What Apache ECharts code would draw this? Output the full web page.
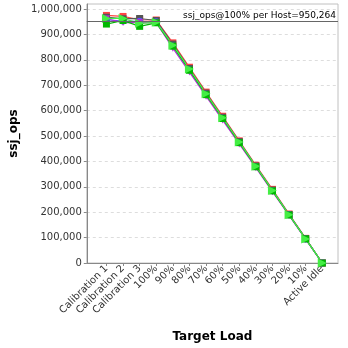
<!DOCTYPE html>
<html>
<head>
<meta charset="utf-8">
<script src="https://cdn.jsdelivr.net/npm/echarts@6/dist/echarts.min.js"></script>
<style>
  html, body { margin: 0; padding: 0; background: #fff; }
  #chart { width: 348px; height: 348px; }
</style>
</head>
<body>
<div id="chart"></div>
<script>
// Target load levels along the x axis
const categories = ['Calibration 1', 'Calibration 2', 'Calibration 3', '100%', '90%', '80%', '70%',
  '60%', '50%', '40%', '30%', '20%', '10%', 'Active Idle'];

// ssj_ops per host at each load level
const hostRed     = [975000, 971000, 958000, 957000, 867000, 771000, 673000, 578000, 481000, 385000, 290000, 193000, 97000, 0];
const hostGray    = [968000, 962000, 963000, 955000, 862000, 766000, 669000, 574000, 478000, 382000, 287000, 191000, 96000, 0];
const hostBlue    = [958000, 953000, 952000, 950000, 855000, 760000, 665000, 570000, 475000, 380000, 285000, 190000, 95000, 0];
const hostMagenta = [962000, 947000, 947000, 946000, 846000, 752000, 657000, 563000, 469000, 375000, 281000, 187000, 93000, 0];
const hostGreen   = [941000, 955000, 932000, 946000, 854000, 759000, 663000, 569000, 474000, 379000, 284000, 189000, 95000, 0];
const hostLime    = [963000, 963000, 944000, 948000, 858000, 764000, 667000, 572000, 477000, 381000, 286000, 190000, 95000, 0];

// y axis tick values
const yTicks = [0, 100000, 200000, 300000, 400000, 500000, 600000, 700000, 800000, 900000, 1000000];
const perHostAt100 = 950264;

const xIndex = categories.map((_, i) => i);
const pairs = vals => vals.map((v, i) => [i, v]);

const hosts = [
  { name: 'host 1', data: hostRed,     color: '#ff4444', symbol: 'rect',     rot: 0,   size: 7 },
  { name: 'host 2', data: hostGray,    color: '#555555', symbol: 'rect',     rot: 0,   size: 7 },
  { name: 'host 3', data: hostBlue,    color: '#5555ff', symbol: 'circle',   rot: 0,   size: 7 },
  { name: 'host 4', data: hostMagenta, color: '#b030d0', symbol: 'triangle', rot: 180, size: 7 },
  { name: 'host 5', data: hostGreen,   color: '#00b800', symbol: 'rect',     rot: 0,   size: 7 },
  { name: 'host 6', data: hostLime,    color: '#44ee44', symbol: 'triangle', rot: -90, size: 9 }
];

const series = hosts.map(h => ({
  name: h.name,
  type: 'line',
  data: pairs(h.data),
  symbol: h.symbol,
  symbolRotate: h.rot,
  symbolSize: h.size,
  showSymbol: true,
  lineStyle: { color: h.color, width: 1.2 },
  itemStyle: { color: h.color },
  animation: false,
  z: 3
}));

// horizontal reference line for the per-host score at 100% load
series.push({
  type: 'line',
  data: [],
  silent: true,
  animation: false,
  markLine: {
    symbol: 'none',
    silent: true,
    animation: false,
    lineStyle: { color: '#666666', width: 1, type: 'solid' },
    label: {
      position: 'insideEndTop',
      distance: [2, 2],
      formatter: 'ssj_ops@100% per Host=' + perHostAt100.toLocaleString('en-US'),
      color: '#000',
      fontFamily: 'DejaVu Sans',
      fontSize: 9
    },
    data: [{ yAxis: perHostAt100 }]
  },
  z: 2
});

const chart = echarts.init(document.getElementById('chart'), null, { renderer: 'canvas' });
chart.setOption({
  backgroundColor: '#ffffff',
  animation: false,
  grid: {
    left: 82, right: 10, top: 4, bottom: 85,
    show: true, borderColor: '#c0c0c0', borderWidth: 1, backgroundColor: '#ffffff'
  },
  xAxis: {
    type: 'value',
    min: -1.183,
    max: 13.947,
    name: 'Target Load',
    nameLocation: 'middle',
    nameGap: 68,
    nameTextStyle: { fontFamily: 'DejaVu Sans', fontSize: 12, fontWeight: 'bold', color: '#000' },
    axisLine: { show: true, onZero: false, lineStyle: { color: '#888888' } },
    axisTick: { show: true, length: 3, lineStyle: { color: '#888888' }, customValues: xIndex },
    axisLabel: {
      customValues: xIndex,
      rotate: 45,
      margin: 4,
      fontFamily: 'DejaVu Sans',
      fontSize: 10,
      color: '#333',
      formatter: v => categories[Math.round(v)]
    },
    splitLine: { show: false }
  },
  yAxis: {
    type: 'value',
    min: 0,
    max: 1020000,
    name: 'ssj_ops',
    nameLocation: 'middle',
    nameGap: 57,
    nameTextStyle: { fontFamily: 'DejaVu Sans', fontSize: 12, fontWeight: 'bold', color: '#000' },
    axisLine: { show: true, onZero: false, lineStyle: { color: '#888888' } },
    axisTick: { show: true, length: 3, lineStyle: { color: '#888888' }, customValues: yTicks },
    axisLabel: {
      customValues: yTicks,
      margin: 5,
      fontFamily: 'DejaVu Sans',
      fontSize: 10,
      color: '#333',
      formatter: v => Number(v).toLocaleString('en-US')
    },
    splitLine: { show: true, lineStyle: { color: '#dddddd', type: [3, 3] } }
  },
  series: series
});
</script>
</body>
</html>
